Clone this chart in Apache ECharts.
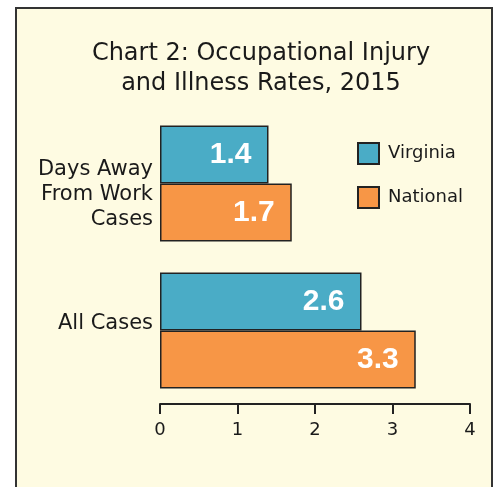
<!DOCTYPE html>
<html>
<head>
<meta charset="utf-8">
<script src="https://cdn.jsdelivr.net/npm/echarts@6/dist/echarts.min.js"></script>
<style>
  html, body { margin: 0; padding: 0; background: #fff; }
  #chart { width: 497px; height: 487px; }
</style>
</head>
<body>
<div id="chart"></div>
<script>
  var categories = ['Days Away\nFrom Work\nCases', 'All Cases'];
  var virginia = [1.4, 2.6];
  var national = [1.7, 3.3];
  var xTicks = [0, 1, 2, 3, 4];

  var myChart = echarts.init(document.getElementById('chart'));

  var barLabel = {
    show: true,
    position: 'insideRight',
    distance: 17,
    color: '#fff',
    fontFamily: 'Liberation Sans',
    fontWeight: 'bold',
    fontSize: 30
  };

  var option = {
    backgroundColor: '#fff',
    animation: false,
    graphic: [{
      type: 'rect',
      z: -10,
      shape: { x: 16, y: 8, width: 476, height: 500 },
      style: { fill: '#fefbe2', stroke: '#333', lineWidth: 2 }
    }],
    // centred on x = 261, like the original
    title: {
      text: 'Chart 2: Occupational Injury\nand Illness Rates, 2015',
      left: 261,
      top: 39,
      padding: 0,
      textAlign: 'center',
      textStyle: {
        fontFamily: 'DejaVu Sans',
        fontWeight: 'normal',
        fontSize: 24,
        lineHeight: 30,
        color: '#1a1a1a'
      }
    },
    legend: {
      orient: 'vertical',
      left: 357,
      top: 142,
      padding: 0,
      itemWidth: 21,
      itemHeight: 21,
      itemGap: 21,
      icon: 'rect',
      textStyle: { fontFamily: 'DejaVu Sans', fontSize: 18, color: '#1a1a1a', padding: [0, 0, 0, 4] },
      data: ['Virginia', 'National']
    },
    grid: { left: 160, right: 27, top: 110, bottom: 83 },
    xAxis: {
      type: 'value',
      min: xTicks[0],
      max: xTicks[xTicks.length - 1],
      interval: 1,
      axisLine: { show: true, lineStyle: { color: '#222', width: 2 } },
      axisTick: { show: true, length: 10, lineStyle: { color: '#222', width: 2 } },
      axisLabel: { margin: 17, fontFamily: 'DejaVu Sans', fontSize: 18, color: '#1a1a1a' },
      splitLine: { show: false }
    },
    yAxis: {
      type: 'category',
      inverse: true,
      data: categories,
      axisLine: { show: false },
      axisTick: { show: false },
      axisLabel: {
        margin: 7,
        align: 'right',
        fontFamily: 'DejaVu Sans',
        fontSize: 21,
        lineHeight: 25,
        color: '#1a1a1a',
        formatter: function (v, i) {
          return i === 0 ? '{a|' + v + '}' : '{b|' + v + '}';
        },
        rich: {
          a: { fontFamily: 'DejaVu Sans', fontSize: 21, lineHeight: 25, color: '#1a1a1a', align: 'right', padding: [22, 0, 0, 0] },
          b: { fontFamily: 'DejaVu Sans', fontSize: 21, lineHeight: 25, color: '#1a1a1a', align: 'right', padding: [0, 0, 14, 0] }
        }
      }
    },
    series: [{
      name: 'Virginia',
      type: 'bar',
      barWidth: 58,
      barGap: '0%',
      data: virginia,
      itemStyle: { color: '#4aacc6', borderColor: '#222', borderWidth: 1.5 },
      label: barLabel
    }, {
      name: 'National',
      type: 'bar',
      barWidth: 58,
      barGap: '0%',
      data: national,
      itemStyle: { color: '#f79646', borderColor: '#222', borderWidth: 1.5 },
      label: barLabel
    }]
  };

  myChart.setOption(option);
</script>
</body>
</html>
